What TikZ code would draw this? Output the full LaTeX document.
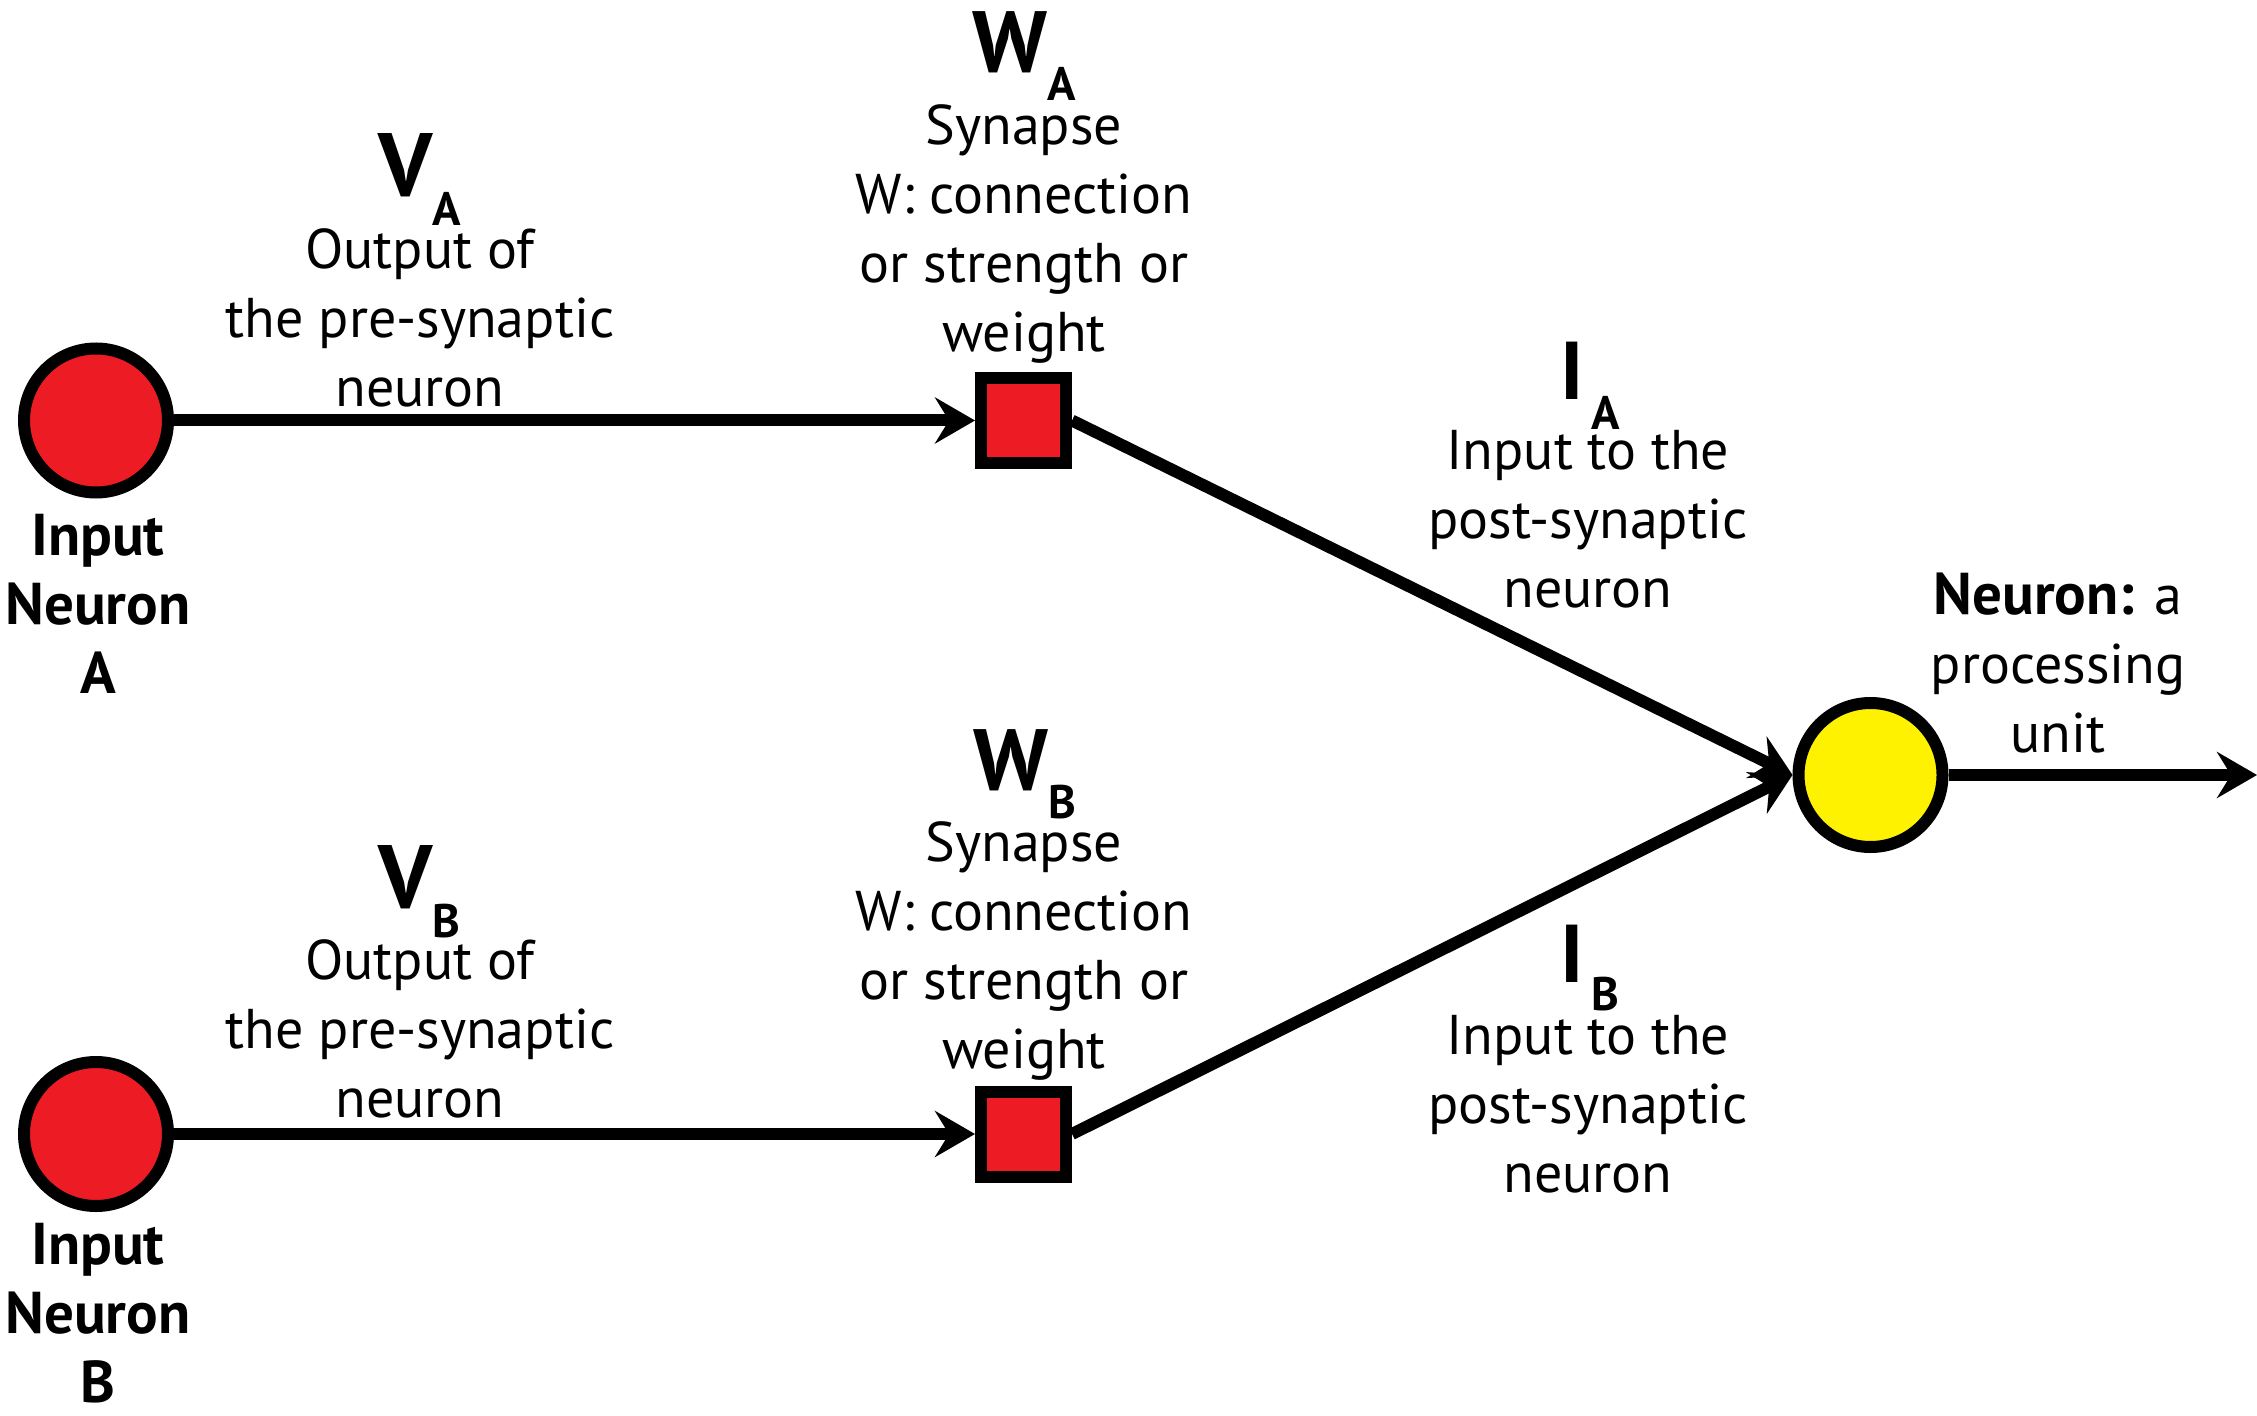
\documentclass[tikz,border=0pt]{standalone}
\usepackage{fontspec}
\setmainfont{PT Sans}
\usetikzlibrary{arrows.meta}
\definecolor{nred}{HTML}{ED1C24}
\definecolor{nyellow}{HTML}{FFF200}
\tikzset{
  neuron/.style={circle, draw=black, line width=6pt, minimum size=72pt, inner sep=0pt},
  synbox/.style={rectangle, draw=black, fill=nred, line width=6pt, minimum size=42.5pt, inner sep=0pt},
  conn/.style={line width=6pt, -{Stealth[length=20pt,width=23pt,inset=7pt]}},
  txt/.style={font=\fontsize{28}{34.5}\selectfont, align=center, inner sep=0pt, anchor=base},
  btxt/.style={txt, font=\fontsize{29.5}{34.5}\selectfont\bfseries},
  hd/.style={inner sep=0pt, anchor=base},
}
\newcommand\hdrlabel[4]{{\fontsize{#1}{#1}\selectfont\bfseries #2\raisebox{-#4}{\fontsize{23.5}{24}\selectfont #3}}}
\begin{document}
\begin{tikzpicture}[x=0.5pt, y=-0.5pt]
\useasboundingbox (0,0) rectangle (2257,1416);
% shapes
\node[neuron, fill=nred] (nA) at (96,420.5) {};
\node[neuron, fill=nred] (nB) at (96,1134) {};
\node[synbox] (sA) at (1023.5,420.5) {};
\node[synbox] (sB) at (1023.5,1134) {};
\node[neuron, fill=nyellow] (out) at (1870.5,775) {};
\coordinate (end) at (2257,775);
% connectors
\draw[conn] (nA) -- (sA);
\draw[conn] (nB) -- (sB);
\draw[conn] (sA.east) -- (out.west);
\draw[conn] (sB.east) -- (out.west);
\draw[conn] (out) -- (end);
% labels (anchor = baseline of last line)
\node[btxt] (lA) at (98,693) {Input\\Neuron\\A};
\node[btxt] (lB) at (98,1402) {Input\\Neuron\\B};
\node[hd] (hVA) at (419.5,197) {\hdrlabel{45}{V}{A}{14.5pt}};
\node[txt] (tVA) at (420,407) {Output of\\the pre-synaptic\\neuron};
\node[hd] (hVB) at (419.5,908) {\hdrlabel{45}{V}{B}{14.5pt}};
\node[txt] (tVB) at (420,1117) {Output of\\the pre-synaptic\\neuron};
\node[hd] (hWA) at (1024.5,73) {\hdrlabel{43.5}{W}{A}{14pt}};
\node[txt] (tWA) at (1024,352) {Synapse\\W: connection\\or strength or\\weight};
\node[hd] (hWB) at (1024.5,790) {\hdrlabel{43.5}{W}{B}{14pt}};
\node[txt] (tWB) at (1024,1068) {Synapse\\W: connection\\or strength or\\weight};
\node[hd] (hIA) at (1590,400) {\hdrlabel{41}{I\kern4pt}{A}{15pt}};
\node[txt] (tIA) at (1588,608) {Input to the\\post-synaptic\\neuron};
\node[hd] (hIB) at (1590,982) {\hdrlabel{41}{I\kern4pt}{B}{14pt}};
\node[txt] (tIB) at (1588,1192) {Input to the\\post-synaptic\\neuron};
\node[txt] (tOut) at (2058,752) {{\fontsize{29.5}{34.5}\selectfont\bfseries Neuron:} a\\processing\\unit};
\end{tikzpicture}
\end{document}
